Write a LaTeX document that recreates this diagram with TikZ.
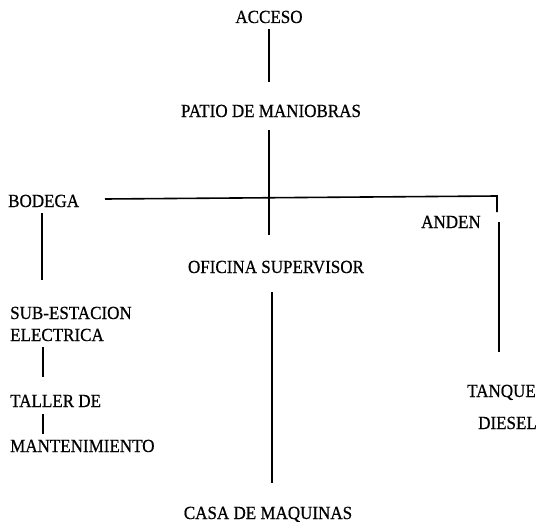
\documentclass[tikz,border=0pt]{standalone}
\usepackage{fontspec}
\setmainfont{Liberation Serif}
\newfontfamily\scanfont[FakeBold=0.6,FakeStretch=0.92]{Liberation Serif}
\usetikzlibrary{calc}
\begin{document}
\begin{tikzpicture}[x=1pt,y=-1pt,
  lbl/.style={inner sep=0pt, text height=12pt, text depth=0pt, font=\scanfont\fontsize{18.5}{21}\selectfont},
  conn/.style={line width=1.6pt, line cap=butt}]
\useasboundingbox[fill=white] (0,0) rectangle (539,522);
% nodes
\node[lbl, anchor=base] (acceso) at (269,23) {ACCESO};
\node[lbl, anchor=base] (patio) at (271,117) {PATIO DE MANIOBRAS};
\node[lbl, anchor=base west] (bodega) at (8,207) {BODEGA};
\node[lbl, anchor=base west] (anden) at (421,228) {ANDEN};
\node[lbl, anchor=base] (oficina) at (276,273) {OFICINA SUPERVISOR};
\node[lbl, anchor=base west] (subest) at (10,319) {SUB-ESTACION};
\node[lbl, anchor=base west] (elec) at (10,341) {ELECTRICA};
\node[lbl, anchor=base west] (taller) at (10,407) {TALLER DE};
\node[lbl, anchor=base west] (mant) at (10,452) {MANTENIMIENTO};
\node[lbl, anchor=base west] (tanque) at (467,397) {TANQUE};
\node[lbl, anchor=base west] (diesel) at (478,429) {DIESEL};
\node[lbl, anchor=base] (casa) at (268,519) {CASA DE MAQUINAS};
% junction coordinates
\coordinate (hl) at (105,199);
\coordinate (hr) at (497,196);
\coordinate (hd) at (497,212);
% connectors
\draw[conn] (269,29) coordinate (a1) -- (269,82) coordinate (a2);
\draw[conn] (269,130) coordinate (p1) -- (269,235) coordinate (p2);
\draw[conn] (hl) -- (hr) -- (hd);
\draw[conn] (42,213) coordinate (b1) -- (42,280) coordinate (b2);
\draw[conn] (43,347) coordinate (e1) -- (43,377) coordinate (e2);
\draw[conn] (43,414) coordinate (t1) -- (43,434) coordinate (t2);
\draw[conn] (499,222) coordinate (n1) -- (499,352) coordinate (n2);
\draw[conn] (272,292) coordinate (o1) -- (272,483) coordinate (o2);
\end{tikzpicture}
\end{document}
